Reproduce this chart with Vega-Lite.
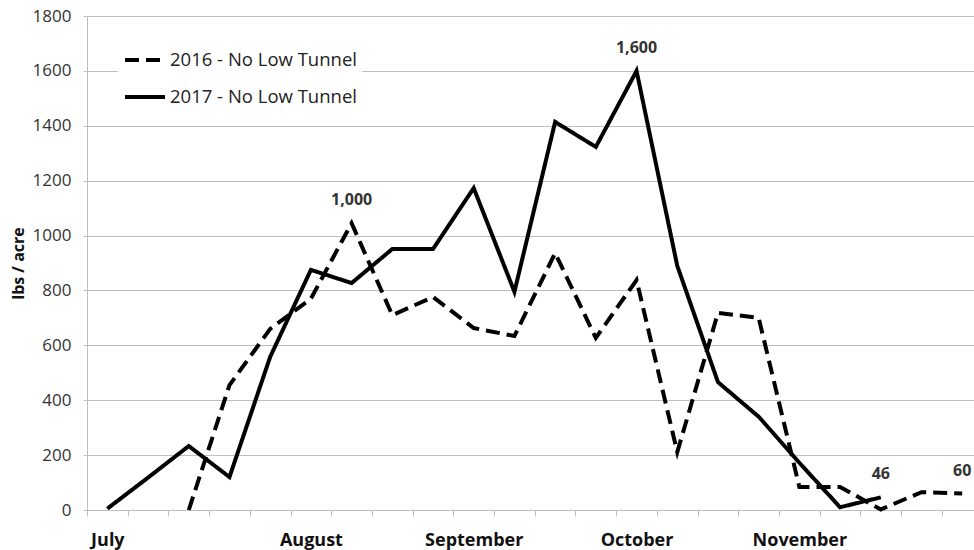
{
  "$schema": "https://vega.github.io/schema/vega-lite/v6.json",
  "width": 887,
  "height": 494,
  "autosize": {"type": "none"},
  "padding": {"left": 87, "top": 16, "right": 0, "bottom": 40},
  "background": "white",
  "config": {"view": {"stroke": null}},
  "datasets": {
    "yield": [
      {"series": "2016 - No Low Tunnel", "i": 2, "v": 0},
      {"series": "2016 - No Low Tunnel", "i": 3, "v": 455},
      {"series": "2016 - No Low Tunnel", "i": 4, "v": 660},
      {"series": "2016 - No Low Tunnel", "i": 5, "v": 770},
      {"series": "2016 - No Low Tunnel", "i": 6, "v": 1045},
      {"series": "2016 - No Low Tunnel", "i": 7, "v": 710},
      {"series": "2016 - No Low Tunnel", "i": 8, "v": 776},
      {"series": "2016 - No Low Tunnel", "i": 9, "v": 663},
      {"series": "2016 - No Low Tunnel", "i": 10, "v": 634},
      {"series": "2016 - No Low Tunnel", "i": 11, "v": 936},
      {"series": "2016 - No Low Tunnel", "i": 12, "v": 627},
      {"series": "2016 - No Low Tunnel", "i": 13, "v": 838},
      {"series": "2016 - No Low Tunnel", "i": 14, "v": 211},
      {"series": "2016 - No Low Tunnel", "i": 15, "v": 718},
      {"series": "2016 - No Low Tunnel", "i": 16, "v": 700},
      {"series": "2016 - No Low Tunnel", "i": 17, "v": 84},
      {"series": "2016 - No Low Tunnel", "i": 18, "v": 84},
      {"series": "2016 - No Low Tunnel", "i": 19, "v": 2},
      {"series": "2016 - No Low Tunnel", "i": 20, "v": 65},
      {"series": "2016 - No Low Tunnel", "i": 21, "v": 60},
      {"series": "2017 - No Low Tunnel", "i": 0, "v": 5},
      {"series": "2017 - No Low Tunnel", "i": 1, "v": 118},
      {"series": "2017 - No Low Tunnel", "i": 2, "v": 233},
      {"series": "2017 - No Low Tunnel", "i": 3, "v": 120},
      {"series": "2017 - No Low Tunnel", "i": 4, "v": 558},
      {"series": "2017 - No Low Tunnel", "i": 5, "v": 875},
      {"series": "2017 - No Low Tunnel", "i": 6, "v": 827},
      {"series": "2017 - No Low Tunnel", "i": 7, "v": 951},
      {"series": "2017 - No Low Tunnel", "i": 8, "v": 951},
      {"series": "2017 - No Low Tunnel", "i": 9, "v": 1173},
      {"series": "2017 - No Low Tunnel", "i": 10, "v": 795},
      {"series": "2017 - No Low Tunnel", "i": 11, "v": 1414},
      {"series": "2017 - No Low Tunnel", "i": 12, "v": 1323},
      {"series": "2017 - No Low Tunnel", "i": 13, "v": 1600},
      {"series": "2017 - No Low Tunnel", "i": 14, "v": 890},
      {"series": "2017 - No Low Tunnel", "i": 15, "v": 466},
      {"series": "2017 - No Low Tunnel", "i": 16, "v": 340},
      {"series": "2017 - No Low Tunnel", "i": 17, "v": 172},
      {"series": "2017 - No Low Tunnel", "i": 18, "v": 10},
      {"series": "2017 - No Low Tunnel", "i": 19, "v": 46}
    ],
    "labels": [
      {"i": 6, "v": 1045, "label": "1,000"},
      {"i": 13, "v": 1600, "label": "1,600"},
      {"i": 19, "v": 46, "label": "46"},
      {"i": 21, "v": 60, "label": "60"}
    ]
  },
  "resolve": {"axis": {"x": "independent"}},
  "layer": [
    {
      "data": {"name": "yield"},
      "mark": {"type": "line", "color": "black", "strokeWidth": 4},
      "encoding": {
        "x": {
          "field": "i",
          "type": "quantitative",
          "scale": {"domain": [-0.5, 21.29], "nice": false, "zero": false},
          "axis": {
            "orient": "bottom",
            "title": null,
            "grid": false,
            "values": [-0.5, 0.5, 1.5, 2.5, 3.5, 4.5, 5.5, 6.5, 7.5, 8.5, 9.5, 10.5, 11.5, 12.5, 13.5, 14.5, 15.5, 16.5, 17.5, 18.5, 19.5, 20.5],
            "labels": false,
            "domainColor": "#bfbfbf",
            "tickColor": "#bfbfbf",
            "tickSize": 6
          }
        },
        "y": {
          "field": "v",
          "type": "quantitative",
          "scale": {"domain": [0, 1800], "nice": false},
          "axis": {
            "title": "lbs / acre",
            "values": [0, 200, 400, 600, 800, 1000, 1200, 1400, 1600, 1800],
            "format": "d",
            "grid": true,
            "gridColor": "#bfbfbf",
            "domainColor": "#bfbfbf",
            "tickColor": "#bfbfbf",
            "tickSize": 4,
            "labelPadding": 12,
            "labelFont": "Open Sans",
            "labelFontSize": 17,
            "labelColor": "#333333",
            "titleFont": "Open Sans",
            "titleFontWeight": "bold",
            "titleFontSize": 16,
            "titleColor": "#111111",
            "titlePadding": 6
          }
        },
        "strokeDash": {
          "field": "series",
          "type": "nominal",
          "scale": {"domain": ["2016 - No Low Tunnel", "2017 - No Low Tunnel"], "range": [[14, 7], [1, 0]]},
          "legend": {
            "title": null,
            "orient": "none",
            "legendX": 31,
            "legendY": 17,
            "fillColor": "white",
            "padding": 5,
            "symbolType": "stroke",
            "symbolStrokeWidth": 4,
            "symbolSize": 1600,
            "symbolStrokeColor": "black",
            "labelFont": "Open Sans",
            "labelFontSize": 18.5,
            "labelLimit": 400,
            "labelColor": "#222222",
            "labelOffset": 3,
            "rowPadding": 5
          }
        }
      }
    },
    {
      "data": {"name": "labels"},
      "mark": {"type": "text", "font": "Open Sans", "fontWeight": "bold", "fontSize": 16, "color": "#333333", "dy": -23, "baseline": "middle"},
      "encoding": {
        "x": {
          "field": "i",
          "type": "quantitative",
          "axis": {
            "orient": "bottom",
            "title": null,
            "grid": false,
            "domain": false,
            "ticks": false,
            "values": [0, 5, 9, 13, 17],
            "labelExpr": "datum.value === 0 ? 'July' : datum.value === 5 ? 'August' : datum.value === 9 ? 'September' : datum.value === 13 ? 'October' : 'November'",
            "labelOverlap": false,
            "labelFlush": false,
            "labelFont": "Open Sans",
            "labelFontWeight": "bold",
            "labelFontSize": 18,
            "labelColor": "#111111",
            "labelPadding": 21
          }
        },
        "y": {"field": "v", "type": "quantitative"},
        "text": {"field": "label"}
      }
    }
  ]
}
